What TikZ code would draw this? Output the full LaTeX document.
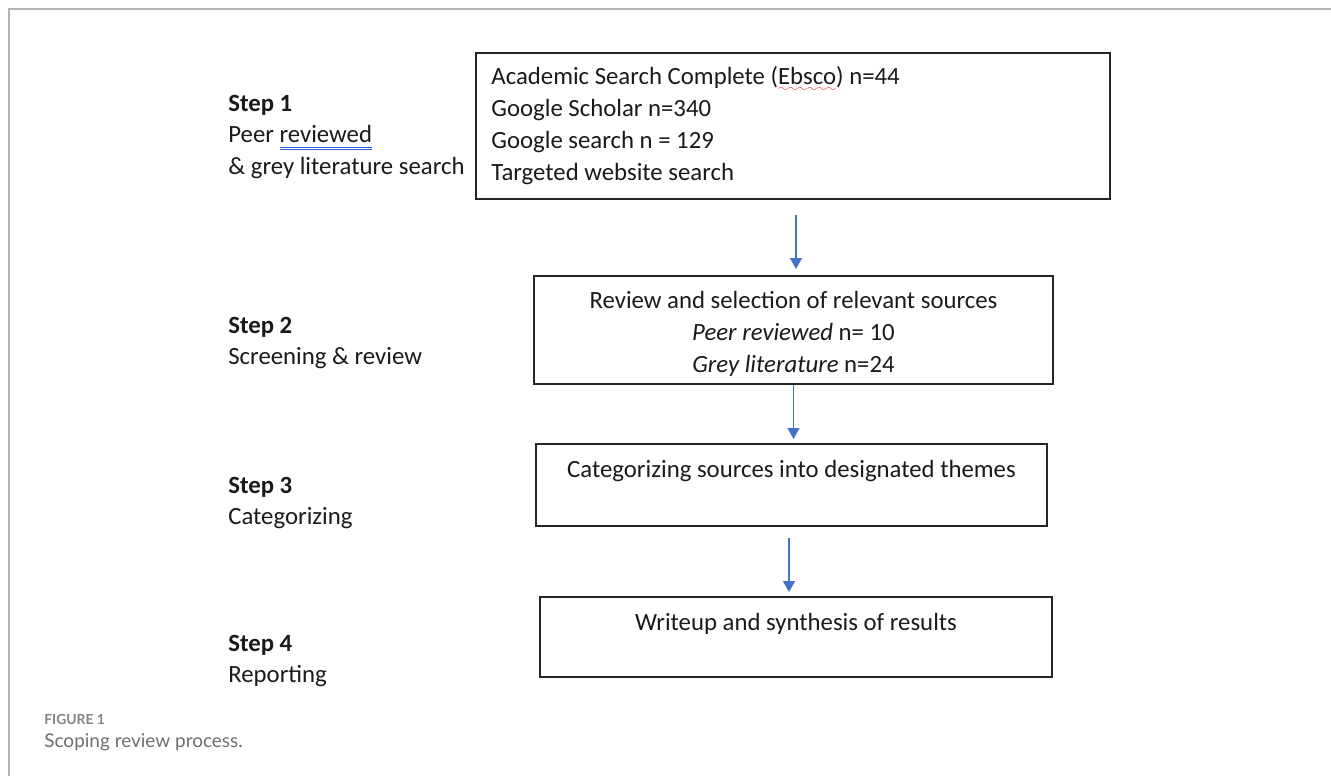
\documentclass[tikz,border=0pt]{standalone}
\usepackage{fontspec}
\setmainfont{Carlito}
\newfontfamily\capfont{Lato}
\usepackage{tikz}
\usetikzlibrary{positioning,arrows.meta}
\definecolor{ink}{HTML}{1A1A1A}
\definecolor{edge}{HTML}{262626}
\definecolor{arrowblue}{HTML}{4472C4}
\definecolor{framegrey}{HTML}{B4B4B4}
\definecolor{capgrey}{HTML}{6E6E6E}
\definecolor{spellred}{HTML}{E02020}
\definecolor{spellblue}{HTML}{2F5BD6}
\font\spellwave=lasy6
\newsavebox\spellbox
\newcommand\redwave[1]{\sbox\spellbox{#1}\rlap{\color{spellred}\lower3.8pt\hbox to \wd\spellbox{\xleaders\hbox{\spellwave\char58}\hfil}}\usebox\spellbox}
\newcommand\blueuu[1]{\sbox\spellbox{#1}\rlap{\color{spellblue}\rule[-2.6pt]{\wd\spellbox}{0.6pt}}\rlap{\color{spellblue}\rule[-4.2pt]{\wd\spellbox}{0.6pt}}\usebox\spellbox}
\tikzset{
  box/.style={draw=edge, line width=0.04cm, inner sep=0pt},
  boxtxt/.style={text=ink, font=\fontsize{14.1}{18.2}\selectfont, inner sep=0pt, align=center},
  steplab/.style={text=ink, font=\fontsize{14.1}{17.8}\selectfont, inner sep=0pt, align=left, anchor=west},
  flow/.style={draw=arrowblue, line width=0.03cm, -{Triangle[width=0.24cm,length=0.22cm]}},
  framerule/.style={draw=framegrey, line width=0.04cm},
  figlab/.style={text=capgrey!85, font=\capfont\bfseries\fontsize{7.9}{9}\selectfont, inner sep=0pt, anchor=west},
  figtxt/.style={text=capgrey, font=\capfont\fontsize{10.8}{13}\selectfont, inner sep=0pt, anchor=west}
}
\begin{document}
\begin{tikzpicture}[x=0.02cm, y=-0.02cm]
  \useasboundingbox (0,0) rectangle (1331,776);
  \draw[framerule] (9,776) -- (9,9) -- (1331,9);
  % boxes
  \node[box, minimum width=12.68cm, minimum height=2.92cm] (b1) at (793,126) {};
  \node[box, minimum width=10.38cm, minimum height=2.16cm] (b2) at (793.5,330) {};
  \node[box, minimum width=10.22cm, minimum height=1.64cm] (b3) at (791.5,485) {};
  \node[box, minimum width=10.24cm, minimum height=1.60cm] (b4) at (796,637) {};
  \node[boxtxt, align=left, below right=0.28cm and 0.32cm of b1.north west] (t1)
    {Academic Search Complete (\redwave{Ebsco}) n=44\\Google Scholar n=340\\Google search n = 129\\Targeted website search};
  \node[boxtxt, below=0.32cm of b2.north] (t2)
    {Review and selection of relevant sources\\\textit{Peer reviewed} n= 10\\\textit{Grey literature} n=24};
  \node[boxtxt, below=0.34cm of b3.north] (t3) {Categorizing sources into designated themes};
  \node[boxtxt, below=0.34cm of b4.north] (t4) {Writeup and synthesis of results};
  % steps
  \node[steplab] (s1) at (228,137) {\textbf{Step 1}\\Peer \blueuu{reviewed}\\\& grey literature search};
  \node[steplab] (s2) at (228,343) {\textbf{Step 2}\\Screening \& review};
  \node[steplab] (s3) at (228,503) {\textbf{Step 3}\\Categorizing};
  \node[steplab] (s4) at (228,661) {\textbf{Step 4}\\Reporting};
  % arrows
  \coordinate (a1) at (796,215);
  \coordinate (a3) at (789,538);
  \draw[flow, shorten >=0.12cm] (a1) -- (a1 |- b2.north);
  \draw[flow, shorten >=0.08cm] (b2.south) -- (b2.south |- b3.north);
  \draw[flow, shorten >=0.08cm] (a3) -- (a3 |- b4.north);
  % caption
  \node[figlab] (fig) at (44,719) {FIGURE 1};
  \node[figtxt] (cap) at (44,742) {Scoping review process.};
\end{tikzpicture}
\end{document}
